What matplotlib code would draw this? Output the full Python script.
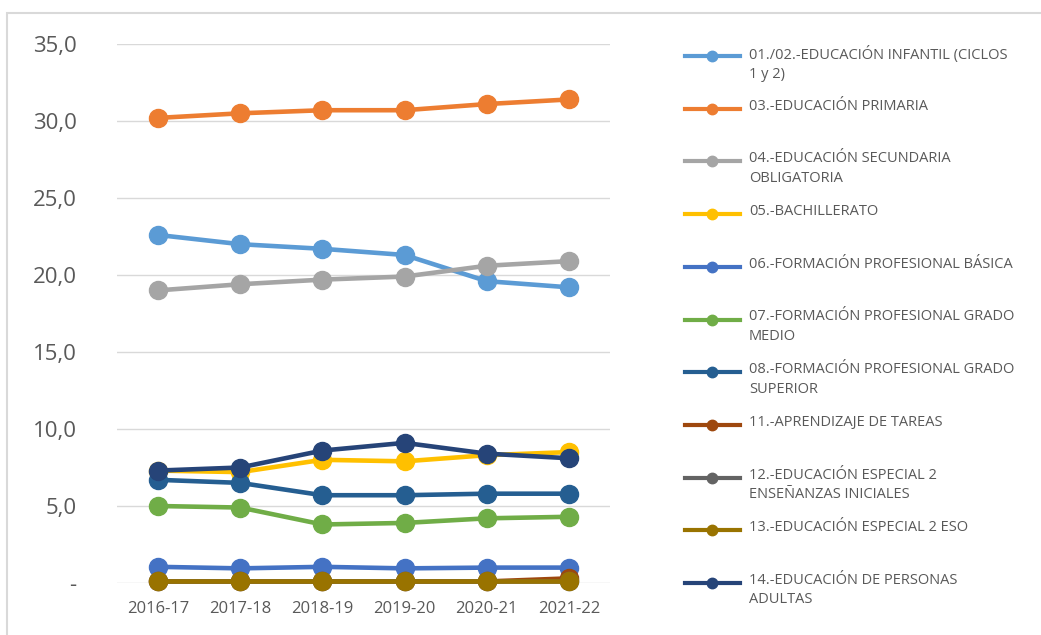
import matplotlib.pyplot as plt
from matplotlib.lines import Line2D
from matplotlib.patches import Rectangle
from matplotlib.ticker import FuncFormatter

# cursos
years = ['2016-17', '2017-18', '2018-19', '2019-20', '2020-21', '2021-22']

labels = [
    '01./02.-EDUCACIÓN INFANTIL (CICLOS\n1 y 2)',
    '03.-EDUCACIÓN PRIMARIA',
    '04.-EDUCACIÓN SECUNDARIA\nOBLIGATORIA',
    '05.-BACHILLERATO',
    '06.-FORMACIÓN PROFESIONAL BÁSICA',
    '07.-FORMACIÓN PROFESIONAL GRADO\nMEDIO',
    '08.-FORMACIÓN PROFESIONAL GRADO\nSUPERIOR',
    '11.-APRENDIZAJE DE TAREAS',
    '12.-EDUCACIÓN ESPECIAL 2\nENSEÑANZAS INICIALES',
    '13.-EDUCACIÓN ESPECIAL 2 ESO',
    '14.-EDUCACIÓN DE PERSONAS\nADULTAS',
]

infantil = [22.6, 22.0, 21.7, 21.3, 19.6, 19.2]
primaria = [30.2, 30.5, 30.7, 30.7, 31.1, 31.4]
eso = [19.0, 19.4, 19.7, 19.9, 20.6, 20.9]
bachillerato = [7.3, 7.2, 8.0, 7.9, 8.3, 8.5]
fp_basica = [1.05, 0.95, 1.05, 0.95, 1.0, 1.0]
fp_medio = [5.0, 4.9, 3.8, 3.9, 4.2, 4.3]
fp_superior = [6.7, 6.5, 5.7, 5.7, 5.8, 5.8]
aprendizaje = [0.1, 0.1, 0.1, 0.1, 0.1, 0.3]
especial_ini = [0.1, 0.1, 0.1, 0.1, 0.1, 0.1]
especial_eso = [0.1, 0.1, 0.1, 0.1, 0.1, 0.1]
adultos = [7.3, 7.5, 8.6, 9.1, 8.4, 8.1]

series = [infantil, primaria, eso, bachillerato, fp_basica, fp_medio,
          fp_superior, aprendizaje, especial_ini, especial_eso, adultos]
colors = ['#5B9BD5', '#ED7D31', '#A5A5A5', '#FFC000', '#4472C4', '#70AD47',
          '#255E91', '#9E480E', '#636363', '#997300', '#264478']

W, H = 1041, 635
fig = plt.figure(figsize=(W / 100, H / 100), dpi=100)
plt.rcParams['font.family'] = ['Open Sans', 'DejaVu Sans']
txt_color = '#595959'

# marco del grafico
fig.patches.append(Rectangle((7 / W, -0.01), 1, 1.01 - 13 / H, transform=fig.transFigure,
                             fill=False, edgecolor='#d9d9d9', linewidth=1.5))

ax = fig.add_axes([117 / W, 1 - 583 / H, 493 / W, (583 - 44) / H])
x = list(range(len(years)))
for vals, c in zip(series, colors):
    ax.plot(x, vals, color=c, linewidth=3.3, marker='o', markersize=13,
            clip_on=False, solid_capstyle='round')

ax.set_xlim(-0.5, len(years) - 0.5)
ax.set_ylim(0, 35)
ax.set_yticks(range(0, 36, 5))
ax.yaxis.set_major_formatter(FuncFormatter(
    lambda v, p: '-' if v == 0 else f'{v:.1f}'.replace('.', ',')))
ax.set_xticks(x)
ax.set_xticklabels(years)
ax.grid(axis='y', color='#d9d9d9', linewidth=1)
ax.set_axisbelow(True)
for s in ax.spines.values():
    s.set_visible(False)
ax.tick_params(axis='y', length=0, pad=29, labelsize=16, labelcolor=txt_color)
ax.tick_params(axis='x', length=0, pad=13, labelsize=12, labelcolor=txt_color)

# leyenda a mano (estilo Excel, marcador alineado con la primera linea)
y0, step = 56, 52.7
for i, (lab, c) in enumerate(zip(labels, colors)):
    yp = 1 - (y0 + i * step) / H
    fig.lines.append(Line2D([685 / W, 740 / W], [yp, yp], transform=fig.transFigure,
                            color=c, linewidth=3))
    fig.lines.append(Line2D([712 / W], [yp], transform=fig.transFigure, color=c,
                            marker='o', markersize=7.5))
    fig.text(749 / W, yp + 10 / H, lab, ha='left', va='top', fontsize=10.5,
             color=txt_color, linespacing=1.4)

fig.savefig('out.png', dpi=100)
